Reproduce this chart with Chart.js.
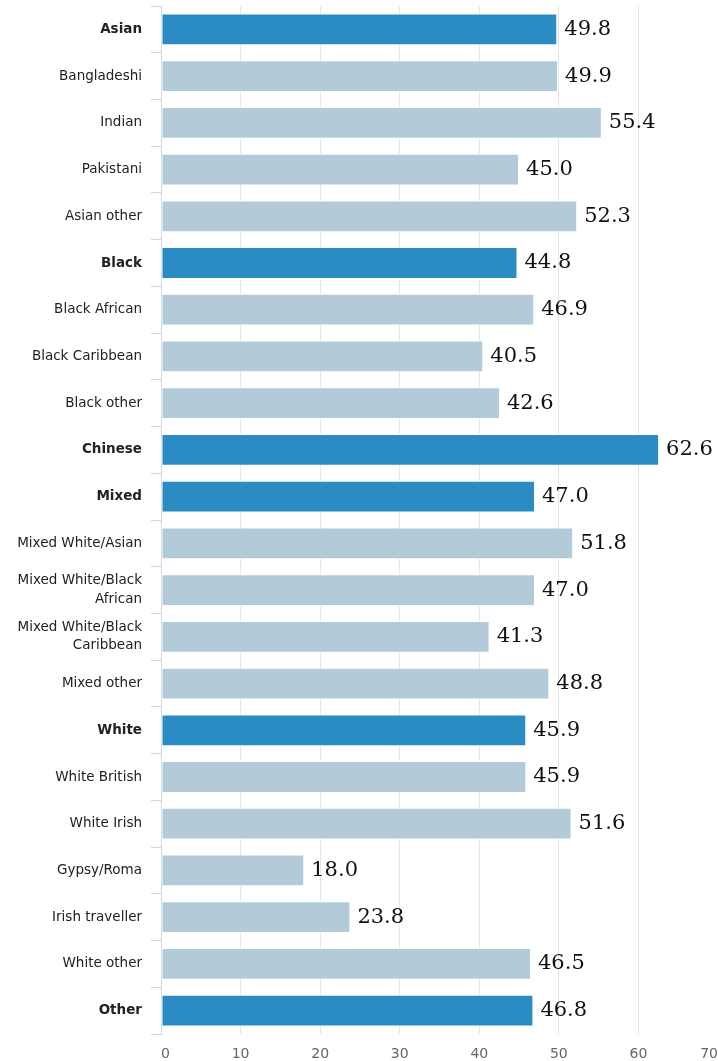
<!DOCTYPE html>
<html>
<head>
<meta charset="utf-8">
<script src="https://cdn.jsdelivr.net/npm/chart.js@4/dist/chart.umd.min.js"></script>
<style>
  html, body { margin: 0; padding: 0; background: #fff; overflow: hidden; }
  #wrap { position: relative; width: 718px; height: 1061px; }
</style>
</head>
<body>
<div id="wrap"><canvas id="chart"></canvas></div>
<script>
// categories, top to bottom
var categories = [
  "Asian", "Bangladeshi", "Indian", "Pakistani", "Asian other",
  "Black", "Black African", "Black Caribbean", "Black other",
  "Chinese",
  "Mixed", "Mixed White/Asian", ["Mixed White/Black", "African"], ["Mixed White/Black", "Caribbean"], "Mixed other",
  "White", "White British", "White Irish", "Gypsy/Roma", "Irish traveller", "White other",
  "Other"
];
var values = [
  49.8, 49.9, 55.4, 45.0, 52.3,
  44.8, 46.9, 40.5, 42.6,
  62.6,
  47.0, 51.8, 47.0, 41.3, 48.8,
  45.9, 45.9, 51.6, 18.0, 23.8, 46.5,
  46.8
];
// headline rows (drawn dark and bold)
var groupNames = ["Asian", "Black", "Chinese", "Mixed", "White", "Other"];
var xTicks = [0, 10, 20, 30, 40, 50, 60, 70];

var DARK = "#2b8cc4";
var LIGHT = "#b3cbd9";

function isGroup(i) {
  return groupNames.indexOf(categories[i]) !== -1;
}

// draws the number at the end of each bar
var valueLabels = {
  id: "valueLabels",
  afterDatasetsDraw: function(chart) {
    var ctx = chart.ctx;
    var meta = chart.getDatasetMeta(0);
    ctx.save();
    ctx.font = "21px 'DejaVu Serif'";
    ctx.fillStyle = "#111111";
    ctx.textAlign = "left";
    ctx.textBaseline = "middle";
    meta.data.forEach(function(bar, i) {
      ctx.fillText(values[i].toFixed(1), bar.x + 7, bar.y);
    });
    ctx.restore();
  }
};

new Chart(document.getElementById("chart"), {
  type: "bar",
  data: {
    labels: categories,
    datasets: [{
      data: values,
      backgroundColor: function(c) { return isGroup(c.dataIndex) ? DARK : LIGHT; },
      borderColor: "#ffffff",
      borderWidth: 1,
      borderSkipped: false,
      barPercentage: 0.68,
      categoryPercentage: 1
    }]
  },
  options: {
    indexAxis: "y",
    responsive: true,
    maintainAspectRatio: false,
    animation: false,
    layout: { padding: { top: 6, right: 0, bottom: 0, left: 0 } },
    plugins: {
      legend: { display: false },
      tooltip: { enabled: false }
    },
    scales: {
      x: {
        min: 0,
        max: 70,
        afterBuildTicks: function(scale) {
          scale.ticks = xTicks.map(function(v) { return { value: v }; });
        },
        afterFit: function(scale) {
          scale.height = 27;
          scale.paddingLeft = 0;
          scale.paddingRight = 0;
        },
        grid: { color: "#e6e6e6", drawTicks: false },
        border: { display: false },
        ticks: {
          align: "inner",
          padding: 12,
          color: "#666666",
          font: { family: "'DejaVu Sans'", size: 14 }
        }
      },
      y: {
        afterFit: function(scale) {
          scale.width = 161;
          scale.paddingTop = 0;
          scale.paddingBottom = 0;
        },
        grid: {
          offset: true,
          drawOnChartArea: false,
          tickLength: 10,
          color: "#ccd6eb"
        },
        border: { color: "#ccd6eb" },
        ticks: {
          padding: 9,
          color: "#222222",
          autoSkip: false,
          font: function(c) {
            var lbl = c.tick && c.tick.label;
            var bold = typeof lbl === "string" && groupNames.indexOf(lbl) !== -1;
            return { family: "'DejaVu Sans'", size: 13.5, weight: bold ? "bold" : "normal", lineHeight: 1.35 };
          }
        }
      }
    }
  },
  plugins: [valueLabels]
});
</script>
</body>
</html>
